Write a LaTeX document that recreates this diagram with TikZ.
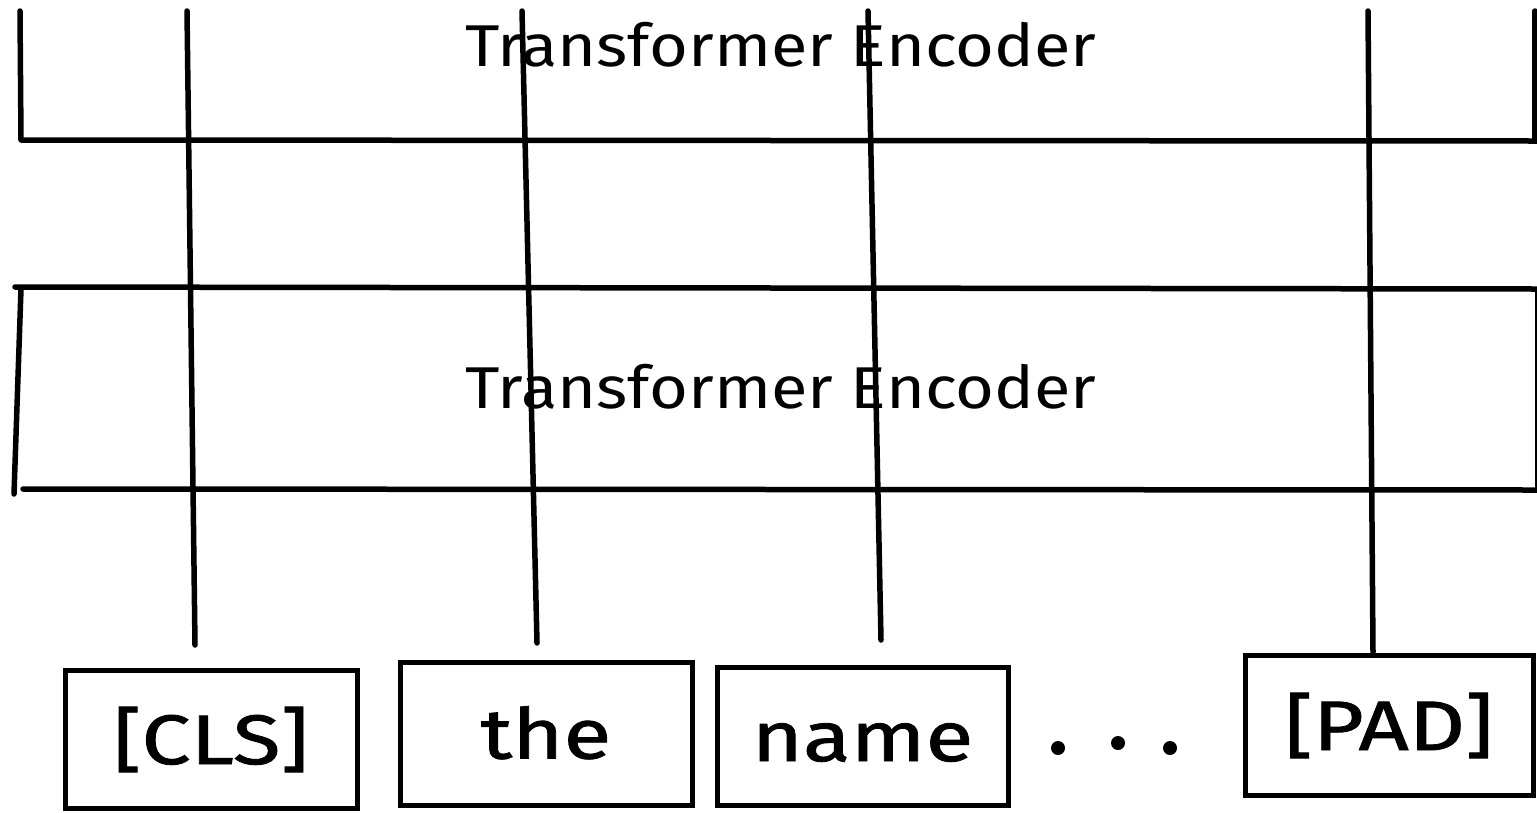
\documentclass[tikz,border=0pt]{standalone}
\usepackage{fontspec}
\newfontfamily\hand[FakeStretch=1.13]{Fira Sans}
\newfontfamily\handtok[FakeStretch=1.25,FakeBold=1.2]{Fira Sans}
\begin{document}
\begin{tikzpicture}[x=1pt,y=-1pt,
  ink/.style={line width=5.5pt, line cap=round, line join=round},
  tok/.style={draw, line width=5pt, inner sep=0pt, text height=50pt, text depth=0pt,
    font=\handtok\fontsize{70}{70}\selectfont},
  enc/.style={anchor=base, inner sep=0pt, font=\hand\fontsize{59}{59}\selectfont},
  dot/.style={circle, fill, inner sep=0pt, minimum size=14pt}]
\useasboundingbox (0,0) rectangle (1537,812);

% upper encoder block (cut by the frame)
\draw[ink] (20,11) -- (21,140) -- (1537,141);
\draw[ink] (1535,11) -- (1535,138);
\node[enc] (enc2) at (781,66) {Transformer Encoder};

% lower encoder block
\draw[ink] (15,287) -- (1537,289);
\draw[ink] (21,289) -- (14,494);
\draw[ink] (23,489) -- (1537,490);
\draw[line width=2pt] (1536,289) -- (1536,489);
\node[enc] (enc1) at (781,408) {Transformer Encoder};

% input tokens
\node[tok, minimum width=292pt, minimum height=138pt] (cls)  at (211,739)   {[CLS]};
\node[tok, minimum width=292pt, minimum height=143pt] (the)  at (546,733.5) {the};
\node[tok, minimum width=291pt, minimum height=138pt] (name) at (862.5,736) {name};
\node[tok, minimum width=288pt, minimum height=140pt] (pad)  at (1389,725)  {[PAD]};

% ellipsis between tokens
\node[dot] (d1) at (1058,748) {};
\node[dot] (d2) at (1118,743) {};
\node[dot] (d3) at (1170,748) {};

% token streams running up through both encoders
\coordinate (s1t) at (187,11);  \coordinate (s1b) at (195,645);
\coordinate (s2t) at (522,11);  \coordinate (s2b) at (537,643);
\coordinate (s3t) at (868,11);  \coordinate (s3b) at (881,640);
\coordinate (s4t) at (1368,11); \coordinate (s4b) at (1373,652);
\draw[ink] (s1t) -- (s1b);
\draw[ink] (s2t) -- (s2b);
\draw[ink] (s3t) -- (s3b);
\draw[ink] (s4t) -- (s4b);
\end{tikzpicture}
\end{document}
